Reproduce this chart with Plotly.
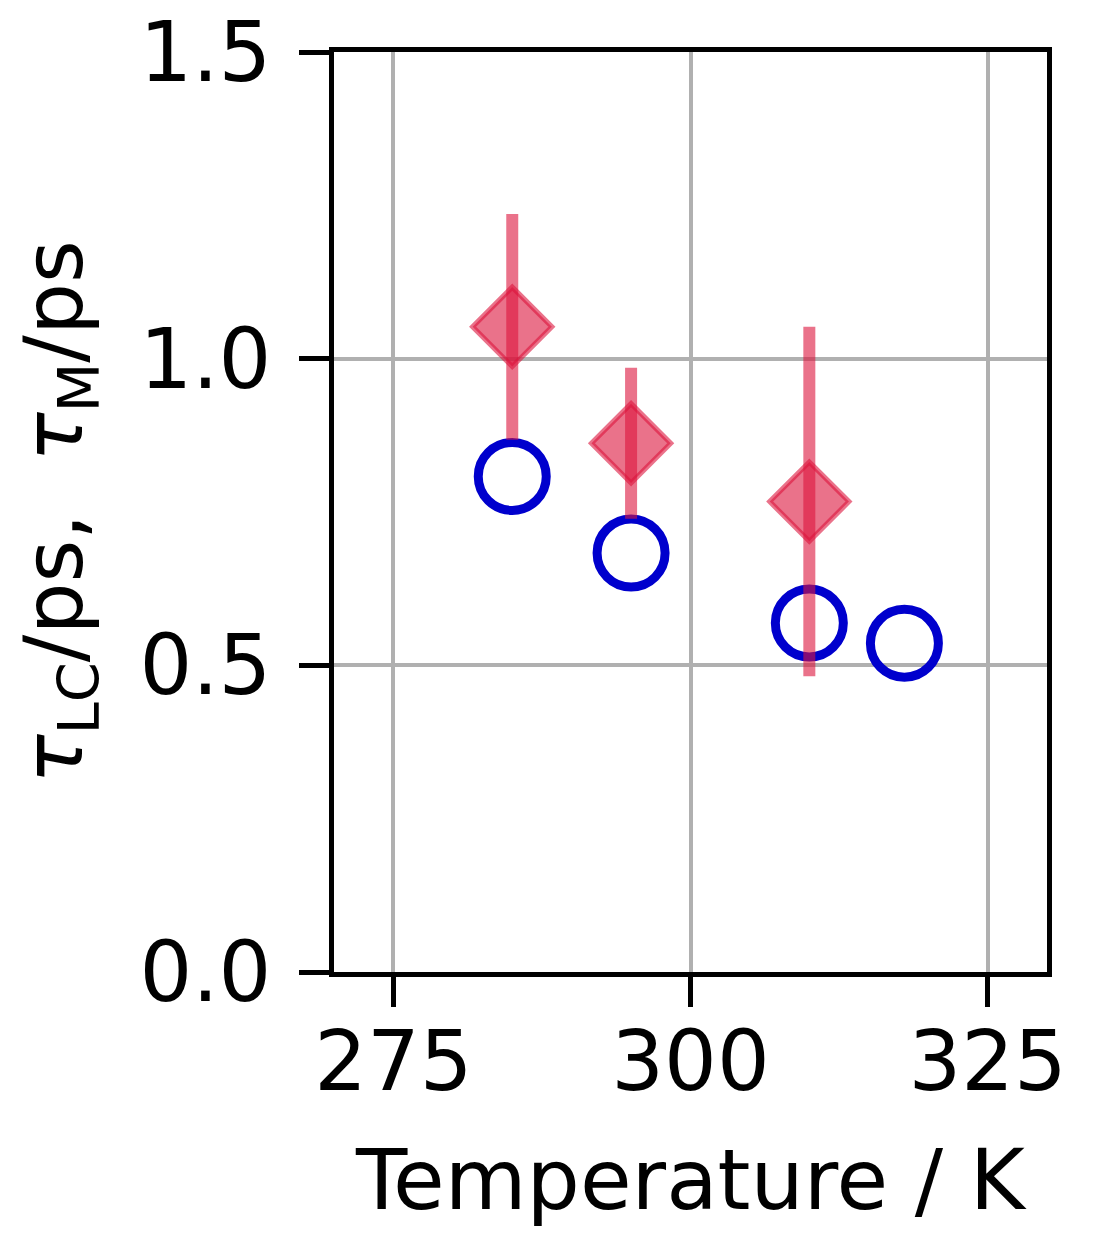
import plotly.graph_objects as go

# Data
temp_lc = [285, 295, 310]
tau_lc = [1.052, 0.862, 0.767]
tau_lc_err = [0.184, 0.123, 0.285]

temp_m = [285, 295, 310, 318]
tau_m = [0.808, 0.683, 0.569, 0.536]

x_ticks = [275, 300, 325]
y_ticks = [0.0, 0.5, 1.0, 1.5]
y_tick_text = ["0.0", "0.5", "1.0", "1.5"]

FONT = "DejaVu Sans"
CRIMSON = "rgba(220,20,60,0.6)"

fig = go.Figure()

fig.add_trace(go.Scatter(
    x=temp_m, y=tau_m, mode="markers",
    marker=dict(symbol="circle-open", size=68, color="#0000CD",
                line=dict(width=9, color="#0000CD")),
    showlegend=False,
))

fig.add_trace(go.Scatter(
    x=temp_lc, y=tau_lc, mode="markers",
    marker=dict(symbol="diamond", size=61, color=CRIMSON,
                line=dict(width=5, color=CRIMSON)),
    error_y=dict(type="data", array=tau_lc_err, visible=True,
                 color=CRIMSON, thickness=12, width=0),
    showlegend=False,
))

axis_common = dict(
    showgrid=True, gridcolor="#b0b0b0", gridwidth=4,
    showline=True, linecolor="black", linewidth=5, mirror=True,
    ticks="outside", ticklen=30, tickwidth=5, tickcolor="black",
    zeroline=False, ticklabeloverflow="allow",
    tickfont=dict(family=FONT, size=83, color="black"),
)

fig.update_xaxes(
    range=[270, 330], tickvals=x_ticks, ticklabelstandoff=-17,
    title=dict(text="Temperature / K", font=dict(family=FONT, size=84, color="black"), standoff=43),
    **axis_common,
)
fig.update_yaxes(
    range=[0, 1.5], tickvals=y_ticks, ticktext=y_tick_text, ticklabelstandoff=11,
    title=dict(text="<i>τ</i><sub>LC</sub>/ps,  <i>τ</i><sub>M</sub>/ps",
               font=dict(family=FONT, size=82, color="black"), standoff=31),
    **axis_common,
)

fig.update_layout(
    width=1096, height=1257,
    margin=dict(l=334, r=49, t=52, b=285, autoexpand=False),
    plot_bgcolor="white", paper_bgcolor="white",
    font=dict(family=FONT, color="black"),
)

# remove the browser's default 8px body margin so the figure fills the window
fig.write_html("out.html", config={"displayModeBar": False},
               post_script="document.body.style.margin='0px';")
